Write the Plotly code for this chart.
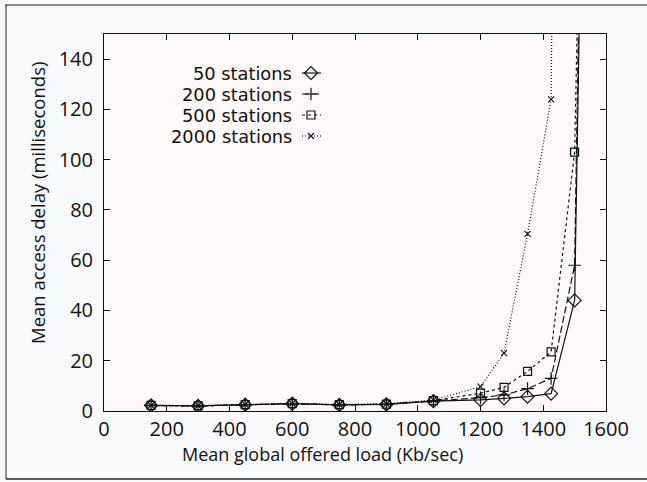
import plotly.graph_objects as go

# ---------------- data ----------------
offered_load = [150, 300, 450, 600, 750, 900, 1050, 1200, 1275, 1350, 1425, 1500, 1575]
delay_50 = [2.2, 2.0, 2.5, 2.9, 2.4, 2.6, 3.9, 4.4, 5.0, 5.7, 6.9, 44, 600]
delay_200 = [2.2, 2.0, 2.5, 2.9, 2.4, 2.7, 4.0, 5.3, 6.4, 8.9, 13.0, 58, 640]
delay_500 = [2.2, 2.0, 2.5, 2.9, 2.5, 2.7, 4.1, 7.1, 9.4, 15.8, 23.5, 103, 560]
load_2000 = [150, 300, 450, 600, 750, 900, 1050, 1200, 1275, 1350, 1425, 1500]
delay_2000 = [2.3, 2.1, 2.6, 3.0, 2.6, 2.9, 4.3, 9.7, 23.0, 70.5, 124, 1100]

series_names = ["50 stations", "200 stations", "500 stations", "2000 stations"]
x_ticks = [0, 200, 400, 600, 800, 1000, 1200, 1400, 1600]
y_ticks = [0, 20, 40, 60, 80, 100, 120, 140]
x_title = "Mean global offered load (Kb/sec)"
y_title = "Mean access delay (milliseconds)"

# ---------------- layout geometry (pixels) ----------------
W, H = 647, 482
L, R, T, B = 104, 41, 34, 71
PW, PH = W - L - R, H - T - B


def fx(px):
    return (px - L) / PW


def fy(py):
    return (H - B - py) / PH


FONT = "Open Sans, Noto Sans, DejaVu Sans, sans-serif"
LEG_FONT = "DejaVu Sans, Open Sans, sans-serif"
INK = "#111111"

styles = [
    dict(dash="solid", symbol="diamond-open", size=10),
    dict(dash="7px,3px", symbol="cross-thin-open", size=9),
    dict(dash="3px,3px", symbol="square-open", size=8),
    dict(dash="1px,2px", symbol="x-thin-open", size=6),
]
xs = [offered_load, offered_load, offered_load, load_2000]
ys = [delay_50, delay_200, delay_500, delay_2000]

fig = go.Figure()
for name, x, y, st in zip(series_names, xs, ys, styles):
    fig.add_trace(go.Scatter(
        x=x, y=y, name=name, mode="lines+markers",
        line=dict(color=INK, width=1.2, dash=st["dash"]),
        marker=dict(symbol=st["symbol"], size=st["size"], color=INK,
                    line=dict(color=INK, width=1.2)),
        cliponaxis=True, showlegend=False,
    ))

# manual legend: text on the left, key on the right
leg_rows = [73, 94, 115, 136]
key_x0, key_x1, key_xm, text_right = 302, 321, 311, 293
for name, st, ry in zip(series_names, styles, leg_rows):
    fig.add_trace(go.Scatter(
        x=[fx(key_x0), fx(key_x1)], y=[fy(ry), fy(ry)], mode="lines",
        line=dict(color=INK, width=1.2, dash=st["dash"]),
        xaxis="x2", yaxis="y2", showlegend=False, hoverinfo="skip",
    ))
    fig.add_trace(go.Scatter(
        x=[fx(key_xm)], y=[fy(ry)], mode="markers",
        marker=dict(symbol=st["symbol"], size=st["size"], color=INK,
                    line=dict(color=INK, width=1.2)),
        xaxis="x2", yaxis="y2", showlegend=False, hoverinfo="skip",
    ))
    fig.add_annotation(
        x=fx(text_right), y=fy(ry), xref="paper", yref="paper",
        text=name, showarrow=False, xanchor="right", yanchor="middle",
        borderpad=0, font=dict(family=LEG_FONT, size=17.8, color=INK),
    )

axis_common = dict(
    showgrid=False, zeroline=False, showline=True, linecolor=INK, linewidth=1,
    mirror="ticks", ticks="inside", ticklen=6, tickcolor=INK, tickwidth=1,
    tickfont=dict(family=FONT, size=20, color=INK),
)
fig.update_layout(
    width=W, height=H,
    margin=dict(l=L, r=R, t=T, b=B, autoexpand=False),
    paper_bgcolor="#f9fafc", plot_bgcolor="#fffafa",
    showlegend=False,
    xaxis=dict(range=[0, 1600], tickvals=x_ticks, ticklabelstandoff=0, **axis_common),
    yaxis=dict(range=[0, 150], tickvals=y_ticks, ticklabelstandoff=6, **axis_common),
    xaxis2=dict(range=[0, 1], overlaying="x", visible=False, fixedrange=True),
    yaxis2=dict(range=[0, 1], overlaying="y", visible=False, fixedrange=True),
)

# axis titles
fig.add_annotation(x=fx(322), y=fy(454), xref="paper", yref="paper",
                   text=x_title, showarrow=False, xanchor="center", yanchor="middle",
                   font=dict(family=FONT, size=18, color=INK))
fig.add_annotation(x=fx(37), y=fy(203), xref="paper", yref="paper",
                   text=y_title, showarrow=False, textangle=-90,
                   xanchor="center", yanchor="middle",
                   font=dict(family=FONT, size=18.5, color=INK))

# outer frame
fig.add_shape(type="line", xref="paper", yref="paper",
              x0=fx(5), x1=fx(W + 5), y0=fy(5), y1=fy(5),
              line=dict(color="#888888", width=2))
fig.add_shape(type="line", xref="paper", yref="paper",
              x0=fx(6), x1=fx(6), y0=fy(5), y1=fy(479),
              line=dict(color="#444444", width=1.2))
fig.add_shape(type="line", xref="paper", yref="paper",
              x0=fx(6), x1=fx(W + 5), y0=fy(479), y1=fy(479),
              line=dict(color="#222222", width=1.5))

fig.write_html(
    "out.html",
    config={"displayModeBar": False},
    post_script="document.body.style.margin='0';document.body.style.overflow='hidden';",
)
